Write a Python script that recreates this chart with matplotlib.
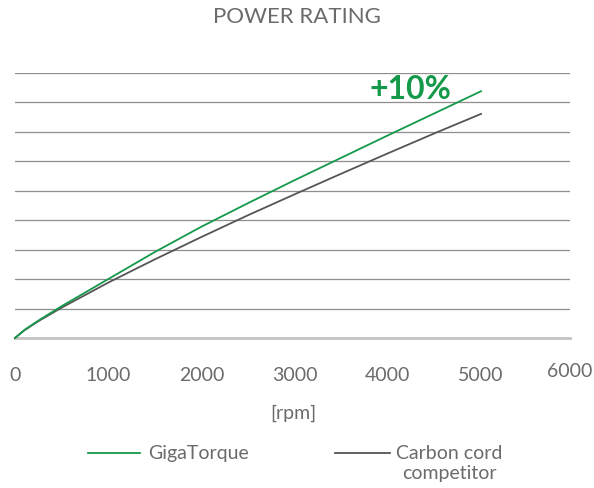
import matplotlib
matplotlib.use("Agg")
import matplotlib.pyplot as plt
from matplotlib.lines import Line2D

plt.rcParams['font.family'] = ['Lato', 'DejaVu Sans']

# data (power, in grid steps), read at each 500 rpm
rpm = [0, 100, 250, 500, 1000, 1500, 2000, 2500, 3000, 3500, 4000, 4500, 5000]
giga_val = [0, 0.27, 0.59, 1.08, 2.0, 2.92, 3.78, 4.58, 5.36, 6.12, 6.88, 7.63, 8.38]
comp_val = [0, 0.26, 0.57, 1.03, 1.88, 2.67, 3.43, 4.17, 4.88, 5.58, 6.27, 6.95, 7.61]
xticks = [0, 1000, 2000, 3000, 4000, 5000]
series_names = ["GigaTorque", "Carbon cord\ncompetitor"]
title = "POWER RATING"
note = "+10%"

green = "#14994a"
gray_line = "#555555"
txt = "#6b6b6b"
fw = "normal"

fig = plt.figure(figsize=(5.94, 4.88), dpi=100)
ax = fig.add_axes([15/594, 1-338/488, (570-15)/594, (338-73)/488])

ax.set_xlim(0, 5955)
ax.set_ylim(0, 9)
ax.set_yticks(range(10))
ax.yaxis.grid(True, color="#8e8e8e", lw=0.9)
ax.set_axisbelow(True)
for s in ["left", "right", "top"]:
    ax.spines[s].set_visible(False)
ax.spines["bottom"].set_color("#c4c4c4")
ax.spines["bottom"].set_linewidth(2.0)
ax.tick_params(axis="y", length=0, labelleft=False)
ax.set_xticks(xticks)
ax.set_xticklabels([str(t) for t in xticks], fontweight=fw)
ax.tick_params(axis="x", length=0, pad=21, labelsize=14, labelcolor=txt)
ax.text(1.0, -0.125, "6000", transform=ax.transAxes, ha="center", va="center",
        fontsize=14, color=txt, fontweight=fw)

ax.plot(rpm, comp_val, color=gray_line, lw=1.3, clip_on=False, zorder=3)
ax.plot(rpm, giga_val, color=green, lw=1.3, clip_on=False, zorder=4)

ax.text(4240, 8.45, note, color=green, fontsize=23, fontweight="bold",
        ha="center", va="center")

fig.text(297/594, 1-17/488, title, ha="center", va="center", fontsize=16,
         color=txt, fontweight=fw)
fig.text(293/594, 1-413/488, "[rpm]", ha="center", va="center", fontsize=14,
         color=txt, fontweight=fw)

# legend
ly = 1 - 453/488
fig.add_artist(Line2D([88/594, 140/594], [ly, ly], transform=fig.transFigure, color=green, lw=1.3))
fig.text(148/594, ly, series_names[0], ha="left", va="center", fontsize=14,
         color=txt, fontweight=fw)
fig.add_artist(Line2D([335/594, 390/594], [ly, ly], transform=fig.transFigure, color=gray_line, lw=1.3))
fig.text(449/594, 1 - 445/488, series_names[1], ha="center", va="top", fontsize=14,
         color=txt, multialignment="center", linespacing=1.2, fontweight=fw)

fig.savefig("out.png", dpi=100)
